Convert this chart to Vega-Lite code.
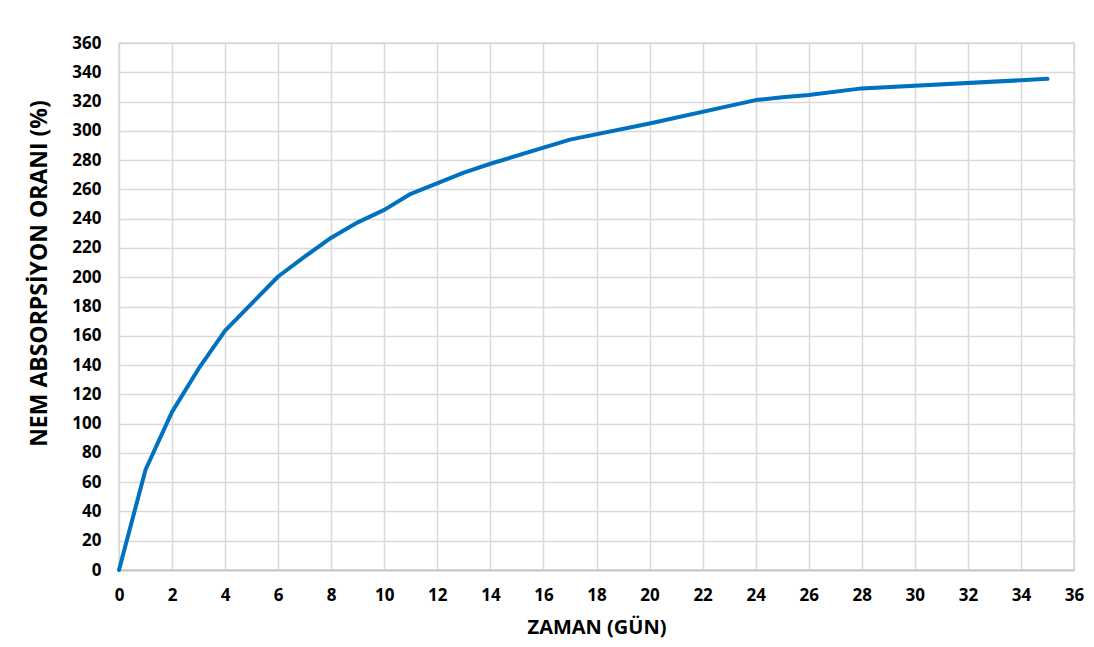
{
  "$schema": "https://vega.github.io/schema/vega-lite/v6.json",
  "width": 955,
  "height": 527,
  "autosize": {"type": "none"},
  "padding": {"left": 119, "top": 43, "right": 20, "bottom": 77},
  "background": "white",
  "data": {
    "values": [
      {"gun": 0, "oran": 0},
      {"gun": 1, "oran": 68.5},
      {"gun": 2, "oran": 108},
      {"gun": 3, "oran": 137.5},
      {"gun": 4, "oran": 163.5},
      {"gun": 6, "oran": 200.5},
      {"gun": 7, "oran": 214},
      {"gun": 8, "oran": 227},
      {"gun": 9, "oran": 237.5},
      {"gun": 10, "oran": 246},
      {"gun": 11, "oran": 257},
      {"gun": 13, "oran": 271.5},
      {"gun": 14, "oran": 277.5},
      {"gun": 17, "oran": 294},
      {"gun": 20, "oran": 305},
      {"gun": 24, "oran": 321},
      {"gun": 25, "oran": 323},
      {"gun": 26, "oran": 324.5},
      {"gun": 28, "oran": 329},
      {"gun": 35, "oran": 335.5}
    ]
  },
  "mark": {"type": "line", "color": "#0070C0", "strokeWidth": 4, "strokeCap": "round", "strokeJoin": "round"},
  "encoding": {
    "x": {
      "field": "gun",
      "type": "quantitative",
      "scale": {"domain": [0, 36], "nice": false, "zero": true},
      "axis": {
        "values": [0,2,4,6,8,10,12,14,16,18,20,22,24,26,28,30,32,34,36],
        "title": "ZAMAN (GÜN)",
        "titleFontSize": 20,
        "titleFont": "Open Sans",
        "titleFontWeight": "bold",
        "titleColor": "#000000",
        "titlePadding": 14,
        "labelFont": "Open Sans",
        "labelFontWeight": "bold",
        "labelFontSize": 17,
        "labelColor": "#000000",
        "labelPadding": 17,
        "labelFlush": false,
        "ticks": false,
        "domainColor": "#bfbfbf",
        "domainWidth": 1.5,
        "gridColor": "#d9d9d9",
        "gridWidth": 1.5
      }
    },
    "y": {
      "field": "oran",
      "type": "quantitative",
      "scale": {"domain": [0, 360], "nice": false},
      "axis": {
        "values": [0,20,40,60,80,100,120,140,160,180,200,220,240,260,280,300,320,340,360],
        "title": "NEM ABSORPSİYON ORANI (%)",
        "titleFontSize": 23,
        "titleFont": "Open Sans",
        "titleFontWeight": "bold",
        "titleColor": "#000000",
        "titleX": -80,
        "titleY": 230,
        "titleAlign": "center",
        "titleBaseline": "middle",
        "labelFont": "Open Sans",
        "labelFontWeight": "bold",
        "labelFontSize": 17,
        "labelColor": "#000000",
        "labelPadding": 18,
        "labelFlush": false,
        "ticks": false,
        "domain": false,
        "gridColor": "#d9d9d9",
        "gridWidth": 1.5
      }
    }
  },
  "config": {
    "view": {"stroke": "#d9d9d9", "strokeWidth": 1.5}
  }
}
